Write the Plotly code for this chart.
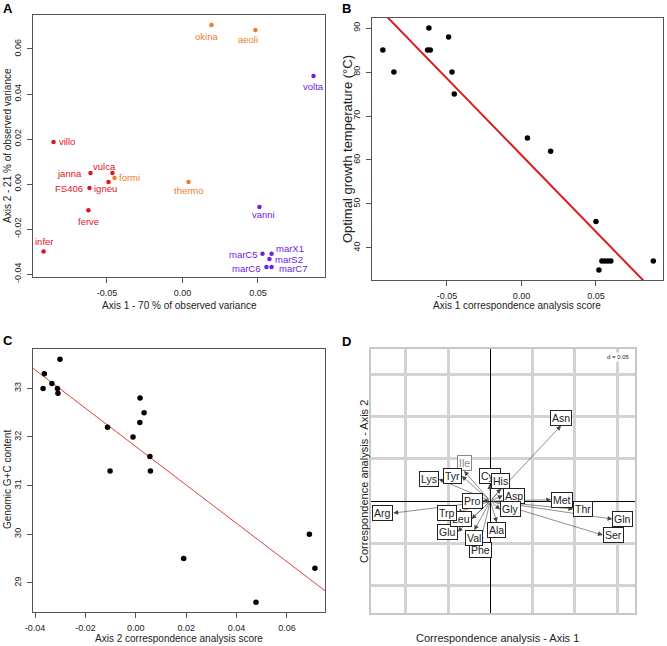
import numpy as np
import plotly.graph_objects as go

# ---------------- Panel A: correspondence analysis of strains ----------------
strains = ["villo", "janna", "vulca", "formi", "igneu", "FS406", "ferve", "infer",
           "okina", "aeoli", "thermo", "volta", "vanni",
           "marC5", "marX1", "marS2", "marC6", "marC7"]
ca_axis1 = [-0.0854, -0.0609, -0.0464, -0.0450, -0.0490, -0.0616, -0.0623, -0.0920,
            0.0192, 0.0483, 0.0040, 0.0868, 0.0510,
            0.0530, 0.0590, 0.0576, 0.0556, 0.0590]
ca_axis2 = [0.0187, 0.0049, 0.0049, 0.0027, 0.0009, -0.0018, -0.0116, -0.0300,
            0.0707, 0.0684, 0.0009, 0.0480, -0.0102,
            -0.0310, -0.0310, -0.0333, -0.0369, -0.0369]
strain_group = ["hyper", "hyper", "hyper", "thermo", "hyper", "hyper", "hyper", "hyper",
                "thermo", "thermo", "thermo", "meso", "meso",
                "meso", "meso", "meso", "meso", "meso"]

# ---------------- Panel B: optimal growth temperature ----------------
b_axis1_score = [-0.0930, -0.0856, -0.0621, -0.0630, -0.0612, -0.0489, -0.0466, -0.0451,
                 0.0040, 0.0196, 0.0500, 0.0520, 0.0540, 0.0560, 0.0580, 0.0600, 0.0885]
b_opt_temp = [85, 80, 90, 85, 85, 88, 80, 75, 65, 62, 46, 35, 37, 37, 37, 37, 37]

# ---------------- Panel C: genomic G+C content ----------------
c_axis2_score = [-0.0301, -0.0363, -0.0368, -0.0333, -0.0311, -0.0309,
                 -0.0112, -0.0102, -0.0011, 0.0017, 0.0016, 0.0033, 0.0056, 0.0058,
                 0.0190, 0.0477, 0.0689, 0.0711]
c_gc = [33.6, 33.3, 33.0, 33.1, 33.0, 32.9,
        32.2, 31.3, 32.0, 32.8, 32.3, 32.5, 31.6, 31.3,
        29.5, 28.6, 30.0, 29.3]

# ---------------- Panel D: amino-acid arrows ----------------
amino_acids = ["Ala", "Arg", "Asn", "Asp", "Cys", "Gln", "Glu", "Gly", "His", "Ile",
               "Leu", "Lys", "Met", "Phe", "Pro", "Ser", "Thr", "Trp", "Tyr", "Val"]
aa_axis1 = [0.0076, -0.1147, 0.0836, 0.0147, -0.0007, 0.1442, -0.0385, 0.0115, 0.0126, -0.0310,
            -0.0222, -0.0610, 0.0718, -0.0118, -0.0090, 0.1329, 0.0980, -0.0394, -0.0338, -0.0189]
aa_axis2 = [-0.0252, -0.0142, 0.0892, 0.0065, 0.0200, -0.0213, -0.0363, -0.0100, 0.0148, 0.0355,
            -0.0213, 0.0260, 0.0015, -0.0481, 0.0006, -0.0402, -0.0095, -0.0138, 0.0296, -0.0343]

# ---------------- styles ----------------
FONT = "Liberation Sans, Arial, Helvetica, sans-serif"
group_colors = {"hyper": "#E0141E", "thermo": "#EE7C2A", "meso": "#7020E0"}
# label placement for panel A (anchor, x shift px, y shift px; positive y = up)
label_anchor = ["left", "right", "center", "left", "center", "right", "center", "center",
                "center", "center", "center", "center", "center",
                "right", "left", "left", "right", "left"]
label_dx = [3, -7, -8, 2, -3, -4, 0, 0, -5, -7, 0, 0, 4, -2, 2, 4, -3, 5]
label_dy = [0, 0, 7, 0, -6, 0, -11, 10, -12, -9, -8, -10, -7, -1, 5, -1, -1, -1]
W, H = 667, 646


def dom(a, b, total):
    return [a / total, b / total]


def ydom(top, bottom):
    return [1 - bottom / H, 1 - top / H]


fig = go.Figure()

# Panel A
fig.add_trace(go.Scatter(
    x=ca_axis1, y=ca_axis2, mode="markers",
    marker=dict(size=4.5, color=[group_colors[g] for g in strain_group]),
    xaxis="x", yaxis="y", showlegend=False, cliponaxis=False))

# Panel B
fit_b = np.polyfit(b_axis1_score, b_opt_temp, 1)
xb_rng = [-0.1003, 0.095]
fig.add_trace(go.Scatter(x=xb_rng, y=np.polyval(fit_b, xb_rng), mode="lines",
                         line=dict(color="#D81E1E", width=2), xaxis="x2", yaxis="y2",
                         showlegend=False))
fig.add_trace(go.Scatter(x=b_axis1_score, y=b_opt_temp, mode="markers",
                         marker=dict(size=5.5, color="black"), xaxis="x2", yaxis="y2",
                         showlegend=False))

# Panel C
fit_c = np.polyfit(c_axis2_score, c_gc, 1)
xc_rng = [-0.0408, 0.0751]
fig.add_trace(go.Scatter(x=xc_rng, y=np.polyval(fit_c, xc_rng), mode="lines",
                         line=dict(color="#E0403A", width=1), xaxis="x3", yaxis="y3",
                         showlegend=False))
fig.add_trace(go.Scatter(x=c_axis2_score, y=c_gc, mode="markers",
                         marker=dict(size=5.5, color="black"), xaxis="x3", yaxis="y3",
                         showlegend=False))

# Panel D invisible trace to activate axes
fig.add_trace(go.Scatter(x=[0], y=[0], mode="markers", marker=dict(size=1, opacity=0),
                         xaxis="x4", yaxis="y4", showlegend=False, hoverinfo="skip"))

annotations = []
for name, g, xv, yv, anc, dx, dy in zip(strains, strain_group, ca_axis1, ca_axis2,
                                        label_anchor, label_dx, label_dy):
    annotations.append(dict(x=xv, y=yv, xref="x", yref="y", text=name, showarrow=False,
                            xanchor=anc, yanchor="middle", xshift=dx, yshift=dy,
                            font=dict(family=FONT, size=9.5, color=group_colors[g])))

for name, ax_, ay_ in zip(amino_acids, aa_axis1, aa_axis2):
    annotations.append(dict(x=ax_, y=ay_, ax=0, ay=0, xref="x4", yref="y4",
                            axref="x4", ayref="y4", text="", showarrow=True,
                            arrowhead=2, arrowsize=1.6, arrowwidth=0.6,
                            arrowcolor="#444444", standoff=0))
for name, ax_, ay_ in zip(amino_acids, aa_axis1, aa_axis2):
    if ax_ > ay_ and ax_ > -ay_:
        xa, ya = "left", "middle"
    elif ax_ > ay_ and ax_ <= -ay_:
        xa, ya = "center", "top"
    elif ax_ <= ay_ and ax_ <= -ay_:
        xa, ya = "right", "middle"
    else:
        xa, ya = "center", "bottom"
    col = "#888888" if name == "Ile" else "#222222"
    annotations.append(dict(x=ax_, y=ay_, xref="x4", yref="y4", text=name, showarrow=False,
                            xanchor=xa, yanchor=ya, bgcolor="white", bordercolor=col,
                            borderwidth=1, borderpad=1,
                            font=dict(family=FONT, size=10.5, color=col)))
annotations.append(dict(x=0.167, y=0.176, xref="x4", yref="y4", text="d = 0.05",
                        showarrow=False, xanchor="right", yanchor="top", bgcolor="white",
                        font=dict(family=FONT, size=6, color="#222")))

# Panel letters
for letter, px, py in [("A", 8, 8), ("B", 346, 8), ("C", 8, 340), ("D", 346, 341)]:
    annotations.append(dict(x=px / W, y=1 - py / H, xref="paper", yref="paper", text=f"<b>{letter}</b>",
                            showarrow=False, xanchor="center", yanchor="middle",
                            font=dict(family=FONT, size=13, color="black")))

# Axis titles
titles = [
    ("Axis 1 - 70 % of observed variance", 179, 306, 0, 10),
    ("Axis 2 - 21 % of observed variance", 8, 146, -90, 10),
    ("Axis 1 correspondence analysis score", 517, 306, 0, 10),
    ("Optimal growth temperature (°C)", 347, 149, -90, 13),
    ("Axis 2 correspondence analysis score", 179, 638, 0, 10),
    ("Genomic G+C content", 7, 480, -90, 10),
    ("Correspondence analysis - Axis 1", 497, 638, 0, 11),
    ("Correspondence analysis - Axis 2", 364, 481, -90, 11),
]
for txt, px, py, ang, sz in titles:
    annotations.append(dict(x=px / W, y=1 - py / H, xref="paper", yref="paper", text=txt,
                            showarrow=False, xanchor="center", yanchor="middle", textangle=ang,
                            font=dict(family=FONT, size=sz, color="#222")))

box = dict(showline=True, mirror=True, linecolor="#555555", linewidth=1, ticks="outside",
           ticklen=5, tickcolor="#555555", showgrid=False, zeroline=False, automargin=False,
           tickfont=dict(family=FONT, size=9, color="#222"), ticklabelstandoff=2)


def fmt(vals, nd):
    return [f"{v:.{nd}f}" for v in vals]


xa_t = [-0.05, 0.0, 0.05]
ya_t = [-0.04, -0.02, 0.0, 0.02, 0.04, 0.06]
yb_t = [40, 50, 60, 70, 80, 90]
xc_t = [-0.04, -0.02, 0.0, 0.02, 0.04, 0.06]
yc_t = [29, 30, 31, 32, 33]

dgrid = dict(showticklabels=False, ticks="", showgrid=True, gridcolor="#D3D3D3", gridwidth=2.5,
             tick0=0, dtick=0.05, zeroline=True, zerolinecolor="black", zerolinewidth=1.2,
             showline=True, mirror=True, linecolor="#C8C8C8", linewidth=1.5, automargin=False)

fig.update_layout(
    width=W, height=H, margin=dict(l=0, r=0, t=0, b=0, autoexpand=False),
    paper_bgcolor="white", plot_bgcolor="white",
    font=dict(family=FONT),
    xaxis=dict(box, domain=dom(33, 325, W), range=[-0.099, 0.0944], anchor="y",
               tickvals=xa_t, ticktext=fmt(xa_t, 2)),
    yaxis=dict(box, domain=ydom(15, 277), range=[-0.0413, 0.0751], anchor="x",
               tickvals=ya_t, ticktext=fmt(ya_t, 2), tickangle=-90),
    xaxis2=dict(box, domain=dom(372, 663, W), range=[-0.1003, 0.095], anchor="y2",
                tickvals=xa_t, ticktext=fmt(xa_t, 2)),
    yaxis2=dict(box, domain=ydom(18, 280), range=[32.7, 92.3], anchor="x2",
                tickvals=yb_t, ticktext=[str(v) for v in yb_t], tickangle=-90),
    xaxis3=dict(box, domain=dom(33, 325, W), range=[-0.0408, 0.0751], anchor="y3",
                tickvals=xc_t, ticktext=fmt(xc_t, 2)),
    yaxis3=dict(box, domain=ydom(349, 612), range=[28.40, 33.81], anchor="x3",
                tickvals=yc_t, ticktext=[str(v) for v in yc_t], tickangle=-90),
    xaxis4=dict(dgrid, domain=dom(370.7, 635, W), range=[-0.1414, 0.171], anchor="y4"),
    yaxis4=dict(dgrid, domain=ydom(349, 613.3), range=[-0.1327, 0.1797], anchor="x4"),
    annotations=annotations,
)

fig.write_html("out.html", config={"displayModeBar": False},
               post_script="document.body.style.margin='0';document.body.style.overflow='hidden';")
